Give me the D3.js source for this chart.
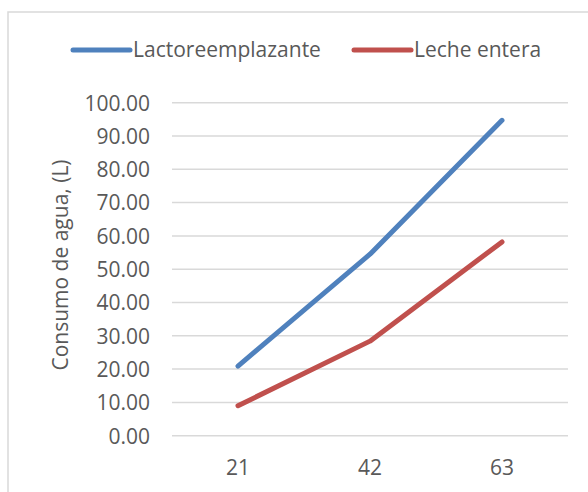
<!DOCTYPE html>
<html><head><meta charset="utf-8">
<script src="https://cdn.jsdelivr.net/npm/d3@7"></script>
<style>html,body{margin:0;padding:0;background:#fff;}</style>
</head><body>
<svg id="c" width="588" height="492"></svg>
<script>
const categories = ["21", "42", "63"];
const lactoreemplazante = [20.9, 54.5, 94.7];
const lecheEntera = [9.0, 28.4, 58.2];
const yTicks = [0, 10, 20, 30, 40, 50, 60, 70, 80, 90, 100];
const seriesNames = ["Lactoreemplazante", "Leche entera"];
const colors = ["#4F81BD", "#C0504D"];
const yTitle = "Consumo de agua, (L)";

const svg = d3.select("#c");
const font = "'Open Sans', sans-serif";
const textColor = "#595959";
const fs = 21;

svg.append("rect").attr("x", 8).attr("y", 12).attr("width", 620).attr("height", 520)
  .attr("fill", "#fff").attr("stroke", "#d9d9d9").attr("stroke-width", 1.5);

const x = d3.scaleBand().domain(categories).range([172, 568]);
const y = d3.scaleLinear().domain([0, 100]).range([435.7, 102.7]);

// gridlines
svg.append("g").selectAll("line").data(yTicks).join("line")
  .attr("x1", 172).attr("x2", 568)
  .attr("y1", d => y(d)).attr("y2", d => y(d))
  .attr("stroke", "#d9d9d9").attr("stroke-width", 1.5);

// y axis labels
const yAxis = d3.axisLeft(y).tickValues(yTicks).tickFormat(d3.format(".2f")).tickSize(0).tickPadding(0);
const gy = svg.append("g").attr("transform", "translate(150,0)").call(yAxis);
gy.select(".domain").remove();
gy.selectAll("text").attr("font-family", font).attr("font-size", fs).attr("fill", textColor).attr("dy", "0.35em");

// x axis labels
const xAxis = d3.axisBottom(x).tickSize(0).tickPadding(0);
const gx = svg.append("g").attr("transform", "translate(0,468)").call(xAxis);
gx.select(".domain").remove();
gx.selectAll("text").attr("font-family", font).attr("font-size", fs).attr("fill", textColor).attr("dy", "0.35em");

// y title
svg.append("text").attr("transform", "translate(61,265) rotate(-90)")
  .attr("text-anchor", "middle").attr("dy", "0.35em")
  .attr("font-family", font).attr("font-size", fs).attr("fill", textColor).text(yTitle);

// lines
const line = d3.line().x((d, i) => x(categories[i]) + x.bandwidth() / 2).y(d => y(d));
[lactoreemplazante, lecheEntera].forEach((s, i) => {
  svg.append("path").datum(s).attr("d", line).attr("fill", "none")
    .attr("stroke", colors[i]).attr("stroke-width", 5)
    .attr("stroke-linecap", "round").attr("stroke-linejoin", "round");
});

// legend
const legX = [73, 354];
seriesNames.forEach((n, i) => {
  svg.append("line").attr("x1", legX[i]).attr("x2", legX[i] + 57).attr("y1", 50).attr("y2", 50)
    .attr("stroke", colors[i]).attr("stroke-width", 5).attr("stroke-linecap", "round");
  svg.append("text").attr("x", legX[i] + 60).attr("y", 50).attr("dy", "0.35em")
    .attr("font-family", font).attr("font-size", fs).attr("fill", textColor).text(n);
});
</script>
</body></html>
